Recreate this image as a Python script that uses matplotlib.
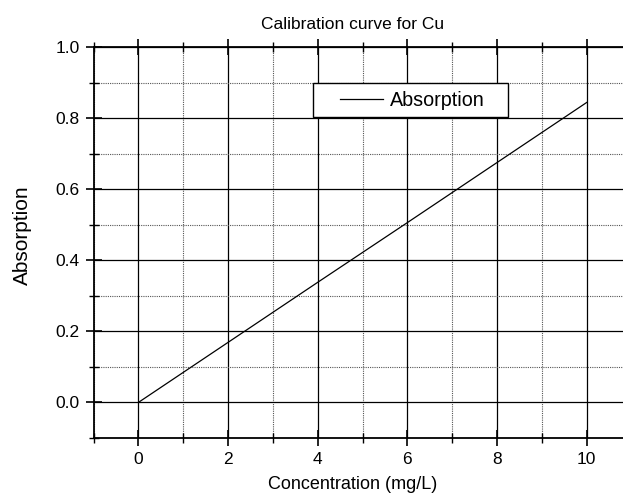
import matplotlib
matplotlib.use("Agg")
import matplotlib.pyplot as plt
from matplotlib.ticker import MultipleLocator
from matplotlib.patches import Rectangle

plt.rcParams["font.family"] = ["Liberation Sans", "DejaVu Sans"]

# calibration data
conc = [0, 2, 4, 6, 8, 10]
absorption = [0.0, 0.169, 0.338, 0.506, 0.675, 0.844]

fig = plt.figure(figsize=(6.23, 4.99), dpi=100)
ax = fig.add_axes([0.1501, 0.1222, 0.8636, 0.7836])

ax.plot(conc, absorption, color="black", lw=0.9, label="Absorption", zorder=4)

ax.set_xlim(-1, 11)
ax.set_ylim(-0.1, 1.0)
ax.xaxis.set_major_locator(MultipleLocator(2))
ax.xaxis.set_minor_locator(MultipleLocator(1))
ax.yaxis.set_major_locator(MultipleLocator(0.2))
ax.yaxis.set_minor_locator(MultipleLocator(0.1))
ax.yaxis.set_major_formatter(plt.FormatStrFormatter("%.1f"))

ax.grid(which="major", color="black", lw=0.9, ls="-")
ax.grid(which="minor", color="#555555", lw=0.8, ls=(0, (1, 1)))
ax.set_axisbelow(True)

ax.tick_params(which="major", direction="inout", length=12, width=1.2,
               labelsize=12.5, top=True, pad=4)
ax.tick_params(which="minor", direction="inout", length=7, width=1.0, top=True)
for s in ax.spines.values():
    s.set_linewidth(1.3)

ax.set_title("Calibration curve for Cu", fontsize=12.5, x=0.482, y=1.046, pad=0)
ax.set_xlabel("Concentration (mg/L)", fontsize=13)
ax.xaxis.set_label_coords(0.482, -0.097)
ax.set_ylabel("Absorption", fontsize=15)
ax.yaxis.set_label_coords(-0.114, 0.52)

# legend box (white, drawn over the grid)
ax.add_patch(Rectangle((0.408, 0.821), 0.362, 0.087, transform=ax.transAxes,
                       facecolor="white", edgecolor="black", lw=1.0, zorder=5))
leg = ax.legend(loc="center left", bbox_to_anchor=(0.458, 0.864), fontsize=14.2,
                frameon=False, handlelength=2.2, handletextpad=0.35,
                borderpad=0, borderaxespad=0)
leg.set_zorder(6)

fig.savefig("out.png", dpi=100)
